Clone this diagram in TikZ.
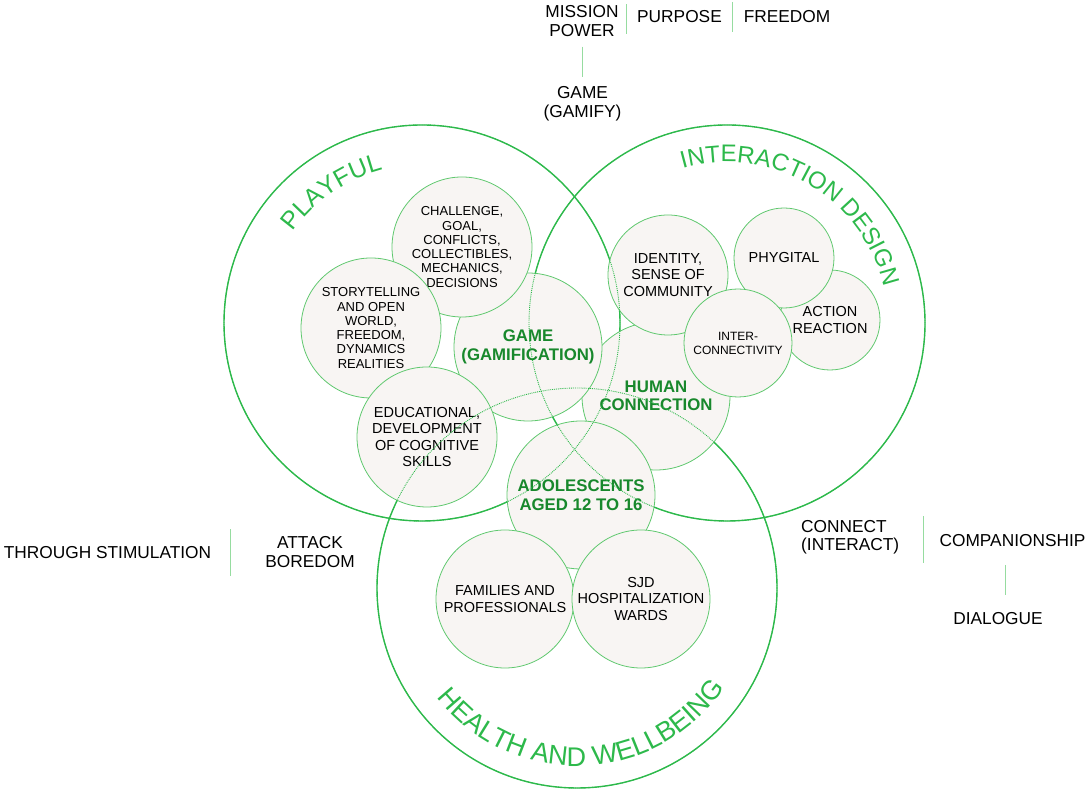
\documentclass[tikz,border=0pt]{standalone}
\usepackage{fontspec}
\setmainfont{Liberation Sans}
\usetikzlibrary{calc,decorations.text}

\definecolor{ringgreen}{RGB}{45,185,75}
\definecolor{keygreen}{RGB}{24,136,44}
\definecolor{bubbleline}{RGB}{95,200,110}
\definecolor{bubblefill}{RGB}{248,245,243}
\definecolor{divgreen}{RGB}{150,220,160}

\newcommand\arcfont{\fontsize{25}{25}\selectfont\color{ringgreen}}

\begin{document}
\begin{tikzpicture}[x=1pt,y=1pt]
    \tikzstyle{ring}=[draw=ringgreen, line width=1.4pt]
    \tikzstyle{ring trace}=[draw=ringgreen, line width=0.9pt, densely dotted]
    \tikzstyle{bubble}=[circle, draw=bubbleline, line width=0.8pt, fill=bubblefill, inner sep=0pt, align=center, font=\fontsize{14.5}{16.5}\selectfont]
    \tikzstyle{small bubble}=[bubble, font=\fontsize{13}{14.3}\selectfont]
    \tikzstyle{key bubble}=[bubble, text=keygreen, font=\fontsize{16.8}{18.5}\selectfont\bfseries]
    \tikzstyle{note}=[align=center, inner sep=0pt, font=\fontsize{17.3}{18.5}\selectfont]
    \tikzstyle{divider}=[draw=divgreen, line width=1pt]

    \useasboundingbox (0,0) rectangle (1089,791);

    % Draw the three big circles
    \coordinate (playful) at (422,468);
    \coordinate (interaction) at (727,468);
    \coordinate (health) at (577,203);
    \foreach \name/\r in {playful/198pt, interaction/198pt, health/200pt}
        \draw[ring] (\name) circle[radius=\r];

    % Names of the big circles, along their edges
    \path[decorate, decoration={text along path, text align=center,
        text={|\arcfont|PLAYFUL}}]
        (playful) ++(150:158pt) arc[start angle=150, end angle=99, radius=158pt];
    \path[decorate, decoration={text along path, text align=center,
        text={|\arcfont\fontsize{24}{24}\selectfont|INTERACTION DESIGN}}]
        (interaction) ++(112:161pt) arc[start angle=112, end angle=7, radius=161pt];
    \path[decorate, decoration={text along path, text align=center,
        text={|\arcfont\fontsize{27}{27}\selectfont|HEALTH AND WELLBEING}}]
        (health) ++(205:178pt) arc[start angle=205, end angle=339, radius=178pt];

    % Draw the bubbles
    \node[key bubble, minimum size=148pt] (human) at (656,395) {HUMAN\\CONNECTION};
    \node[key bubble, minimum size=148pt] (game) at (528,444) {GAME\\(GAMIFICATION)};
    \node[small bubble, minimum size=140pt] (challenge) at (462,544)
        {CHALLENGE,\\GOAL,\\CONFLICTS,\\COLLECTIBLES,\\MECHANICS,\\DECISIONS};
    \node[small bubble, minimum size=140pt] (story) at (371,463)
        {STORYTELLING\\AND OPEN\\WORLD,\\FREEDOM,\\DYNAMICS\\REALITIES};
    \node[bubble, minimum size=140pt] (edu) at (427,354)
        {EDUCATIONAL,\\DEVELOPMENT\\OF COGNITIVE\\SKILLS};
    \node[key bubble, minimum size=148pt] (teens) at (581,296) {ADOLESCENTS\\AGED 12 TO 16};
    \node[bubble, minimum size=138pt] (families) at (505,192) {FAMILIES AND\\PROFESSIONALS};
    \node[bubble, minimum size=138pt] (sjd) at (641,192) {SJD\\HOSPITALIZATION\\WARDS};
    \node[bubble, minimum size=120pt] (identity) at (668,516) {IDENTITY,\\SENSE OF\\COMMUNITY};
    \node[bubble, minimum size=100pt] (action) at (830,471) {ACTION\\REACTION};
    \node[bubble, minimum size=100pt] (phygital) at (784,533) {PHYGITAL};
    \node[bubble, minimum size=108pt, font=\fontsize{12}{14}\selectfont] (inter) at (738,448)
        {INTER-\\CONNECTIVITY};

    % Hidden parts of the big circles
    \foreach \name/\r in {playful/198pt, interaction/198pt, health/200pt}
        \draw[ring trace] (\name) circle[radius=\r];

    % Notes round the diagram
    \node[note] (mission) at (582,770) {MISSION\\POWER};
    \node[note] (purpose) at (679.5,774) {PURPOSE};
    \node[note] (freedom) at (787,774) {FREEDOM};
    \node[note] (gamify) at (582.5,687) {GAME\\(GAMIFY)};
    \node[note] (stimulation) at (107.5,238) {THROUGH STIMULATION};
    \node[note] (boredom) at (310,239) {ATTACK\\BOREDOM};
    \node[note, align=left, anchor=west] (connect) at (801,253.5) {CONNECT\\(INTERACT)};
    \node[note] (companion) at (1012.5,250) {COMPANIONSHIP};
    \node[note] (dialogue) at (998,172) {DIALOGUE};

    % Dividers between the notes
    \draw[divider] ($(mission.east)!.4!(purpose.west)$) +(0,15) -- +(0,-15);
    \draw[divider] ($(purpose.east)!.5!(freedom.west)$) +(0,15) -- +(0,-15);
    \draw[divider] ($(mission.south)!.5!(gamify.north)$) +(0,15) -- +(0,-15);
    \draw[divider] ($(stimulation.east)!.35!(boredom.west)$) +(0,23.5) -- +(0,-23.5);
    \draw[divider] ($(connect.east)!.6!(companion.west)$) +(0,23.5) -- +(0,-23.5);
    \draw[divider] ($(companion.south)!.5!(dialogue.north)$) +(0,15) -- +(0,-15);
\end{tikzpicture}
\end{document}
